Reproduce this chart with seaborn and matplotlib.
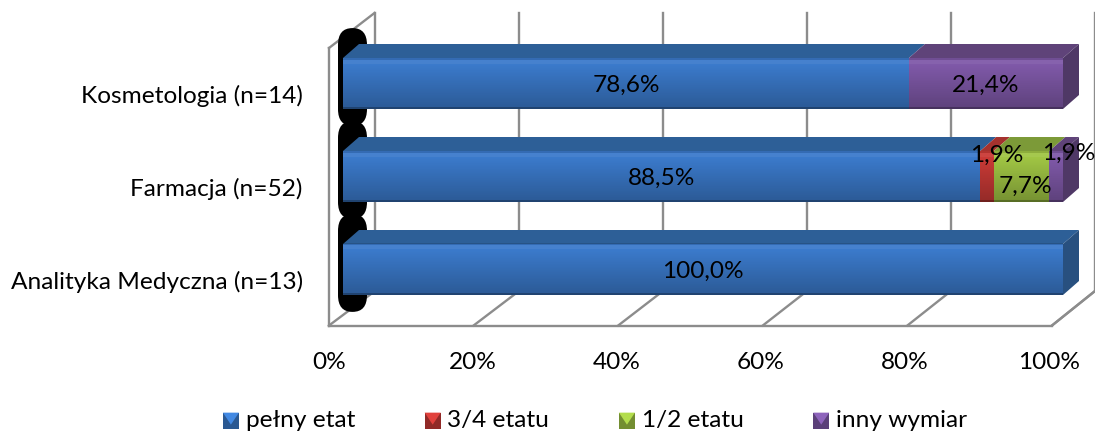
import numpy as np
import pandas as pd
import matplotlib
matplotlib.use("Agg")
import matplotlib.pyplot as plt
import seaborn as sns
from matplotlib.patches import Polygon, FancyBboxPatch, Rectangle
from matplotlib.legend_handler import HandlerBase
from matplotlib.transforms import ScaledTranslation

categories = ["Kosmetologia (n=14)", "Farmacja (n=52)", "Analityka Medyczna (n=13)"]
series = ["pełny etat", "3/4 etatu", "1/2 etatu", "inny wymiar"]
pelny = [78.6, 88.5, 100.0]
trzy_czwarte = [0.0, 1.9, 0.0]
pol = [0.0, 7.7, 0.0]
inny = [21.4, 1.9, 0.0]
tick_vals = [0, 20, 40, 60, 80, 100]
front = ["#3B7ACB", "#C93A36", "#A0C544", "#7F59A8"]
top = ["#2D5F97", "#A5322E", "#7C9A38", "#5F4379"]
side = ["#28507F", "#7E2825", "#64802C", "#4F3866"]
FS = 17.6
FONT = "Lato"

sns.set_theme(style="white")
plt.rcParams["font.family"] = [FONT, "DejaVu Sans"]

W, H = 1095, 432
fig = plt.figure(figsize=(W / 100, H / 100), dpi=100)
ax = fig.add_axes([343 / W, 1 - 316 / H, 720 / W, 279 / H])

vals = np.array([pelny, trzy_czwarte, pol, inny])
cum = vals.cumsum(axis=0)
df = pd.DataFrame(
    [(c, s, cum[j, i]) for j, s in enumerate(series) for i, c in enumerate(categories)],
    columns=["cat", "series", "cum"],
)
BAR = 51 / 93
sns.barplot(
    data=df, y="cat", x="cum", hue="series", hue_order=series[::-1], order=categories,
    palette=dict(zip(series, front)), dodge=False, width=BAR, legend=False, ax=ax,
    saturation=1, zorder=5, linewidth=0, edgecolor="none",
)
ax.set_xlim(0, 100)
ax.set_ylim(2.5, -0.5)

X = lambda px: (px - 343) / 7.2
Y = lambda py: (py - 83.5) / 93
DX, DY = 16 / 7.2, -14 / 93
GRAY = "#8C8C8C"


def line(xs, ys, z=1):
    ax.plot(xs, ys, color=GRAY, lw=1.7, clip_on=False, zorder=z, solid_capstyle="projecting")


# walls and floor
base_y, floor_back, wall_top, wall_top_front = 325.5, 291, 13, 48
line([X(329), X(329)], [Y(wall_top_front), Y(base_y)])
line([X(329), X(374.5)], [Y(wall_top_front), Y(wall_top)])
line([X(329), X(1052)], [Y(base_y), Y(base_y)])
line([X(1052), X(1095)], [Y(base_y), Y(floor_back)])
for t in tick_vals:
    xb = X(375) + t * (X(1095) - X(375)) / 100
    xf = X(329) + t * (X(1052) - X(329)) / 100
    line([xb, xb], [Y(wall_top), Y(floor_back)])
    line([xf, xb], [Y(base_y), Y(floor_back)])

# black end-cap artefacts
for i in range(3):
    hh = 47.5 / 93
    ax.add_patch(FancyBboxPatch(
        (X(338) + 1.5, i - 0.07 - hh + 0.12), X(367) - X(338) - 3.0, 2 * hh - 0.24,
        boxstyle="round,pad=1.5,rounding_size=2.0", mutation_aspect=0.09,
        fc="black", ec="none", clip_on=False, zorder=2))

# 3-D faces and shading
rows = 51
shade = np.zeros((rows, 1, 4))
for r in range(rows):
    f = r / (rows - 1)
    if f < 0.04:
        shade[r, 0] = (0, 0, 0, 0.12)
    elif f < 0.12:
        shade[r, 0] = (1, 1, 1, 0.06)
    else:
        shade[r, 0] = (0, 0, 0, 0.30 * (f - 0.12))
    if f > 0.96:
        shade[r, 0] = (0, 0, 0, 0.45)

for i in range(3):
    yt, yb = i - BAR / 2, i + BAR / 2
    left = 0.0
    for j in range(4):
        w = vals[j, i]
        if w <= 0:
            continue
        ax.add_patch(Polygon(
            [(left, yt), (left + w, yt), (left + w + DX, yt + DY), (left + DX, yt + DY)],
            fc=top[j], ec="none", clip_on=False, zorder=4 + j * 0.01))
        left += w
        last = j
    sp = Polygon([(100, yt), (100 + DX, yt + DY), (100 + DX, yb + DY), (100, yb)],
                 fc=side[last], ec="none", clip_on=False, zorder=4.5)
    ax.add_patch(sp)
    grad = np.zeros((40, 1, 4))
    grad[..., 3] = np.linspace(0, 0.3, 40)[:, None]
    im = ax.imshow(grad, extent=(100, 100 + DX, yb + DY, yt + DY), aspect="auto",
                   origin="upper", zorder=4.6, clip_on=True)
    im.set_clip_path(sp)
    ax.imshow(shade, extent=(0, 100, yb, yt), aspect="auto", origin="upper", zorder=6)
ax.set_xlim(0, 100)
ax.set_ylim(2.5, -0.5)

# data labels
label_off = {(1, 1): (10, 21), (1, 2): (4, -10), (1, 3): (13, 23)}
for i in range(3):
    left = 0.0
    for j in range(4):
        w = vals[j, i]
        if w <= 0:
            continue
        dx, dy = label_off.get((i, j), (0, -2))
        ax.annotate(f"{w:.1f}%".replace(".", ","), (left + w / 2, i), xytext=(dx, dy),
                    textcoords="offset pixels", ha="center", va="center", fontsize=FS,
                    color="black", zorder=10, annotation_clip=False)
        left += w

# axes ticks
sns.despine(ax=ax, left=True, bottom=True)
ax.set_xlabel("")
ax.set_ylabel("")
ax.set_xticks(tick_vals, [f"{t}%" for t in tick_vals], fontsize=FS, color="black")
ax.set_yticks(range(3), categories, fontsize=FS, color="black")
ax.tick_params(axis="both", length=0)
ax.tick_params(axis="x", pad=26)
ax.tick_params(axis="y", pad=29)
for lab in ax.get_xticklabels():
    lab.set_transform(lab.get_transform() + ScaledTranslation(-14 / 100, 0, fig.dpi_scale_trans))
for lab in ax.get_yticklabels():
    lab.set_transform(lab.get_transform() + ScaledTranslation(0, -10 / 100, fig.dpi_scale_trans))


# legend with bevelled squares
class Bevel(HandlerBase):
    def create_artists(self, legend, orig, xd, yd, w, h, fs, trans):
        c = np.array(orig.get_facecolor()[:3])
        s = 16 * 0.72
        x0, y0 = -xd, -yd - 1.5
        out = Rectangle((x0, y0), s, s, fc=c * 0.72, ec="none", transform=trans)
        tri = Polygon([(x0, y0 + s), (x0 + s, y0 + s), (x0 + s / 2, y0 + s * 0.25)],
                      fc=np.minimum(c * 1.12, 1), ec="none", transform=trans)
        return [out, tri]


handles = [Rectangle((0, 0), 1, 1, fc=c) for c in front]
fig.legend(handles, series, handler_map={Rectangle: Bevel()}, ncol=4, frameon=False,
           fontsize=FS, loc="center", bbox_to_anchor=(595 / W, 1 - 420 / H),
           handlelength=0.68, handletextpad=0.25, columnspacing=2.85,
           borderpad=0, labelcolor="black")

fig.savefig("out.png", dpi=100, facecolor="white")
